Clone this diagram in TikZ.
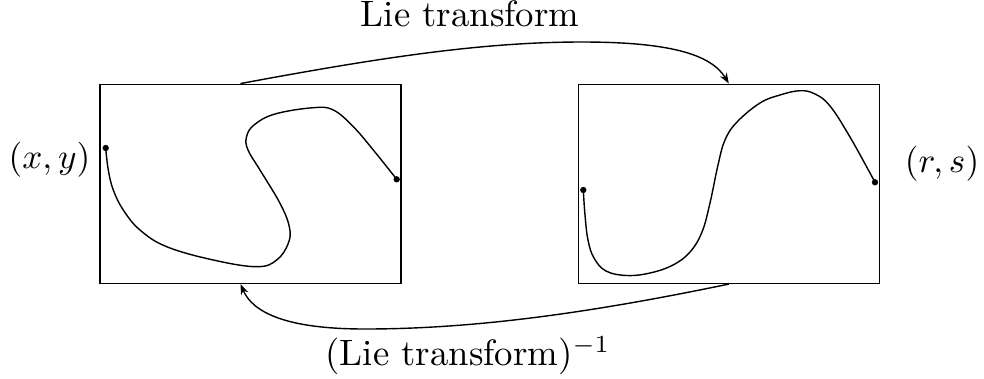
\documentclass[tikz,border=0pt]{standalone}
\usepackage{amsmath}
\usepackage{tikz}
\usetikzlibrary{arrows.meta,positioning,calc}

\begin{document}
\begin{tikzpicture}[x=0.01cm,y=-0.01cm,>={Stealth[length=3pt,width=2.2pt]},
 font=\fontsize{10.45pt}{12.5pt}\selectfont,
 frame/.style={draw,inner sep=0pt,minimum width=3.01cm,minimum height=1.99cm},
 dot/.style={circle,fill,inner sep=0pt,minimum size=1.8pt},
 lbl/.style={anchor=base,inner sep=0pt}]
\useasboundingbox (0,0) rectangle (984,378);
% the two planes
\node[frame] (lbox) at (250.5,183.8) {};
\node[frame] (rbox) at (728.8,183.8) {};
\node[lbl] (xy) at (49.5,168) {$(x,y)$};
\node[lbl] (rs) at (942,172) {$(r,s)$};
% orbit in the old variables
\node[dot] (la) at (105.7,148) {};
\node[dot] (lb) at (396.7,179.3) {};
\draw plot[smooth,tension=0.65] coordinates {(105.7,148) (108.3,170) (113.3,190) (123.3,210) (140,230) (166.7,246.7) (213.3,260) (256.7,266.7) (276.7,260) (288.3,243.3) (289.3,226.7) (280,203.3) (260,170) (248,150) (246.5,137) (254,125) (275,114) (313.3,107.7) (333.3,110) (353.3,126.7) (373.3,150) (396.7,179.3)};
% orbit in the new variables
\node[dot] (ra) at (583.3,190) {};
\node[dot] (rb) at (875,182.3) {};
\draw plot[smooth,tension=0.65] coordinates {(583.3,190) (585,215) (588,240) (594,258) (606,271) (626.7,275.5) (650,273) (673,265) (690,252) (702,232) (710,203) (718,165) (725,140) (737,122) (760,103) (780,95) (800,90.7) (815,94) (830,106) (850,137) (875,182.3)};
% maps between them
\coordinate (top) at (582,42);
\coordinate (bot) at (365,329);
\draw[->] ([xshift=-0.1cm]lbox.north) .. controls +(140,-26) and +(-100,0) .. (top)
  .. controls +(85,0) and +(-18,-30) .. (rbox.north);
\draw[->] (rbox.south) .. controls +(-130,27) and +(115,0) .. (bot)
  .. controls +(-80,0) and +(12,28) .. ([xshift=-0.1cm]lbox.south);
\node[lbl] (fwd) at (470,26.7) {Lie transform};
\node[lbl] (inv) at (468,365) {(Lie transform)$^{-1}$};
\end{tikzpicture}
\end{document}
